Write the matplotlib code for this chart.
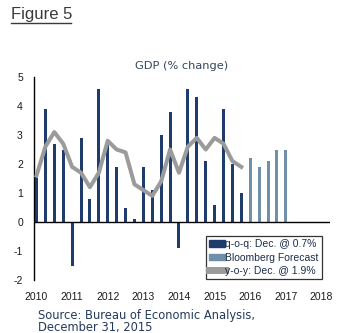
import matplotlib
matplotlib.use("Agg")
import matplotlib.pyplot as plt
from matplotlib.patches import Patch
from matplotlib.lines import Line2D

# Quarterly GDP, 2010Q1 - 2015Q4 (annualised q-o-q % change)
qoq = [1.6, 3.9, 2.7, 2.5,
       -1.5, 2.9, 0.8, 4.6,
       2.7, 1.9, 0.5, 0.1,
       1.9, 1.1, 3.0, 3.8,
       -0.9, 4.6, 4.3, 2.1,
       0.6, 3.9, 2.0, 1.0]
# Year-over-year % change, same quarters
yoy = [1.6, 2.6, 3.1, 2.7,
       1.9, 1.7, 1.2, 1.7,
       2.8, 2.5, 2.4, 1.3,
       1.1, 0.9, 1.4, 2.5,
       1.7, 2.6, 2.9, 2.5,
       2.9, 2.7, 2.1, 1.9]
# Bloomberg forecast, 2016Q1 - 2017Q1
forecast = [2.2, 1.9, 2.1, 2.5, 2.5]

years = list(range(2010, 2019))
yticks = [-2, -1, 0, 1, 2, 3, 4, 5]

start_year = 2010
q_pos = [start_year + i / 4 for i in range(len(qoq))]
f_pos = [start_year + (len(qoq) + i) / 4 for i in range(len(forecast))]

navy = "#1f3d6c"
steel = "#6f8fab"
grey = "#9b9b9b"
text_navy = "#243a5e"

fig = plt.figure(figsize=(3.37, 3.33), dpi=100)
ax = fig.add_axes([34 / 337, 53 / 333, 296 / 337, 203 / 333])

bw = 0.085
ax.bar(q_pos, qoq, width=bw, color=navy, zorder=2)
ax.bar(f_pos, forecast, width=bw, color=steel, zorder=2)
ax.plot(q_pos, yoy, color=grey, lw=2.9, solid_joinstyle="round", zorder=3)
ax.axhline(0, color="black", lw=1.0, zorder=4)

ax.set_xlim(2009.93, 2018.24)
ax.set_ylim(-2, 5)
ax.set_xticks(years)
ax.set_xticklabels([str(y) for y in years], family="Liberation Sans", fontsize=7.5, color="#1a1a1a")
ax.set_yticks(yticks)
ax.set_yticklabels([str(v) for v in yticks], family="Liberation Sans", fontsize=7.5, color="#1a1a1a")
ax.tick_params(axis="x", length=0, pad=9)
ax.tick_params(axis="y", length=0, pad=8)
for s in ("top", "right", "bottom"):
    ax.spines[s].set_visible(False)
ax.spines["left"].set_linewidth(1.0)

ax.set_title("GDP (% change)", family="DejaVu Sans", fontsize=8.2, color="#34455c", pad=6)

handles = [Patch(color=navy), Patch(color=steel), Line2D([], [], color=grey, lw=5)]
labels = ["q-o-q: Dec. @ 0.7%", "Bloomberg Forecast", "y-o-y: Dec. @ 1.9%"]
leg = ax.legend(handles, labels, loc="lower right", bbox_to_anchor=(288 / 296, 0.005),
                prop={"family": "Liberation Sans", "size": 7.5}, frameon=True, fancybox=False,
                handlelength=1.6, handleheight=0.55, handletextpad=0.0, labelspacing=0.32,
                borderpad=0.3, borderaxespad=0.0)
leg.get_frame().set_edgecolor("black")
leg.get_frame().set_linewidth(0.9)
for t in leg.get_texts():
    t.set_color("#1b2d4a")

fig.text(11 / 337, 1 - 15 / 333, "Figure 5", family="Liberation Sans", fontsize=12,
         color="#3a3a3a", va="center", ha="left")
fig.add_artist(Line2D([11 / 337, 71 / 337], [1 - 23 / 333, 1 - 23 / 333], color="#3a3a3a", lw=1.0))

fig.text(38 / 337, 1 - 309.5 / 333, "Source: Bureau of Economic Analysis,\nDecember 31, 2015",
         family="DejaVu Sans", fontsize=8.3, color=text_navy, va="top", ha="left",
         linespacing=0.9)

fig.savefig("out.png", dpi=100, facecolor="white")
